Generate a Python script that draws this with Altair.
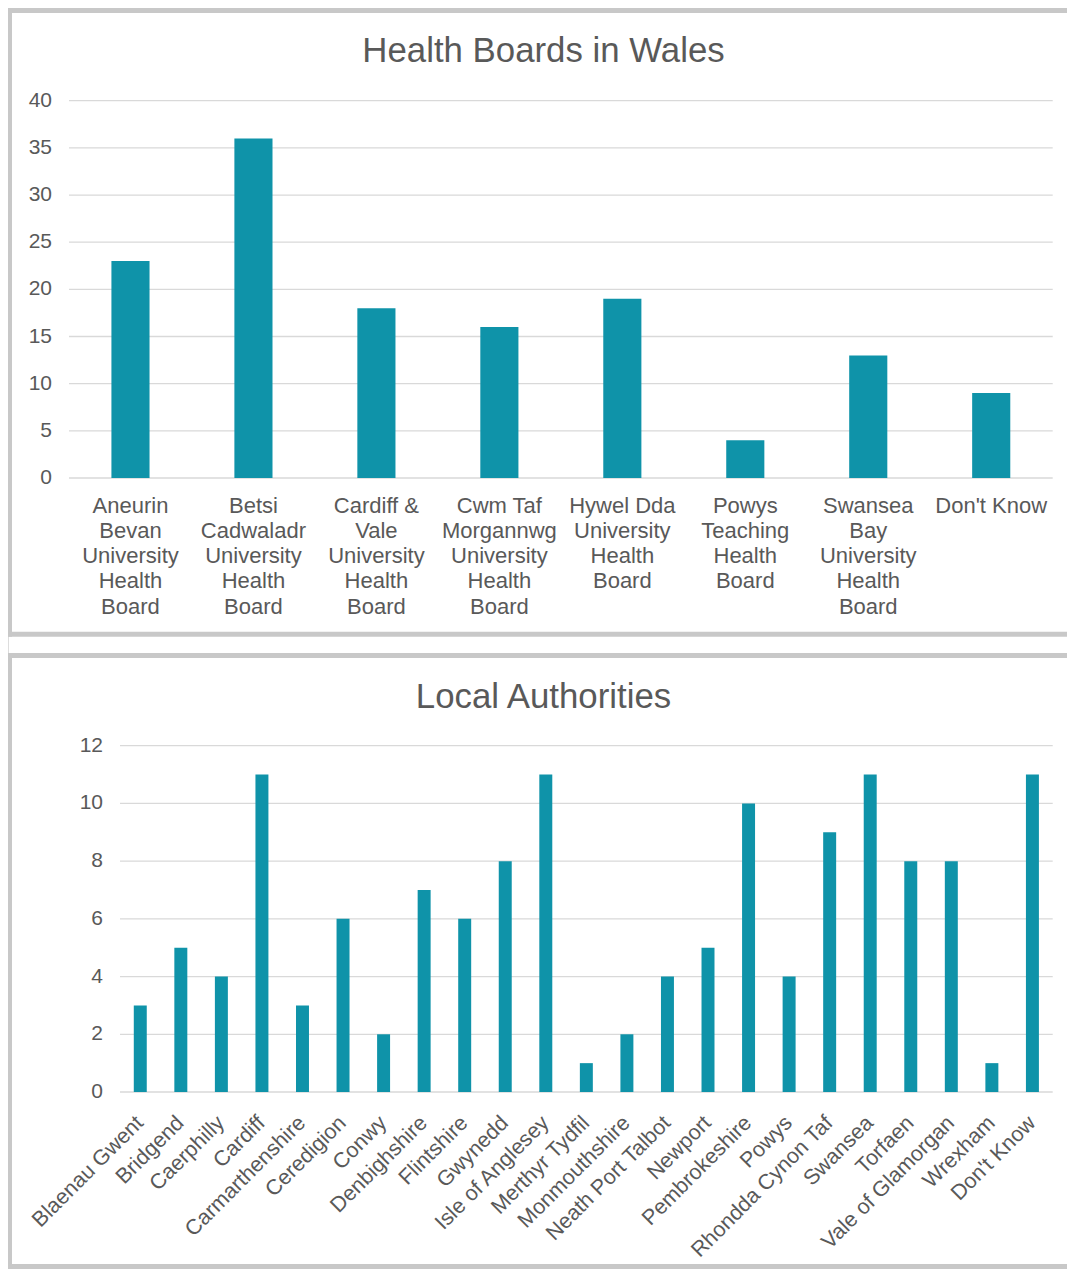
import altair as alt
import pandas as pd

# ---- data ----
board_labels = [
    "Aneurin\nBevan\nUniversity\nHealth\nBoard",
    "Betsi\nCadwaladr\nUniversity\nHealth\nBoard",
    "Cardiff &\nVale\nUniversity\nHealth\nBoard",
    "Cwm Taf\nMorgannwg\nUniversity\nHealth\nBoard",
    "Hywel Dda\nUniversity\nHealth\nBoard",
    "Powys\nTeaching\nHealth\nBoard",
    "Swansea\nBay\nUniversity\nHealth\nBoard",
    "Don't Know",
]
board_values = [23, 36, 18, 16, 19, 4, 13, 9]
board_ticks = [0, 5, 10, 15, 20, 25, 30, 35, 40]

la_labels = [
    "Blaenau Gwent", "Bridgend", "Caerphilly", "Cardiff", "Carmarthenshire",
    "Ceredigion", "Conwy", "Denbighshire", "Flintshire", "Gwynedd",
    "Isle of Anglesey", "Merthyr Tydfil", "Monmouthshire", "Neath Port Talbot",
    "Newport", "Pembrokeshire", "Powys", "Rhondda Cynon Taf", "Swansea",
    "Torfaen", "Vale of Glamorgan", "Wrexham", "Don't Know",
]
la_values = [3, 5, 4, 11, 3, 6, 2, 7, 6, 8, 11, 1, 2, 4, 5, 10, 4, 9, 11, 8, 8, 1, 11]
la_ticks = [0, 2, 4, 6, 8, 10, 12]

title1 = "Health Boards in Wales"
title2 = "Local Authorities"

FONT = "Liberation Sans"
TXT = "#595959"
GRID = "#d9d9d9"
BAR = "#0F93A9"
BORDER = "#c8c8c8"
W, H = 1059, 1261

band_pad = {"boards": (0.69, 0.345), "las": (0.68, 0.34)}


def panel(cats, vals, ticks, xrange, yrange, ymax, xlab_mark, xlab_y, ylab_x, name):
    dfb = pd.DataFrame({"cat": cats, "count": vals})
    dft = pd.DataFrame({"v": ticks})
    xs = alt.Scale(domain=cats, range=xrange, paddingInner=band_pad[name][0],
                   paddingOuter=band_pad[name][1])
    ys = alt.Scale(domain=[0, ymax], range=yrange, nice=False, zero=True)
    grid = alt.Chart(dft).mark_rule(color=GRID, strokeWidth=1.3).encode(
        y=alt.Y("v:Q", scale=ys, axis=None),
        x=alt.value(xrange[0]), x2=alt.value(xrange[1]),
    )
    ylab = alt.Chart(dft).mark_text(
        font=FONT, fontSize=21, color=TXT, align="right", baseline="middle"
    ).encode(y=alt.Y("v:Q", scale=ys, axis=None), x=alt.value(ylab_x), text="v:Q")
    bars = alt.Chart(dfb).mark_bar(color=BAR).encode(
        x=alt.X("cat:N", sort=cats, scale=xs, axis=None),
        y=alt.Y("count:Q", scale=ys, axis=None),
    )
    xlab = alt.Chart(dfb).mark_text(**xlab_mark).encode(
        x=alt.X("cat:N", sort=cats, scale=xs, axis=None),
        y=alt.value(xlab_y), text="cat:N",
    )
    return alt.layer(grid, bars, ylab, xlab)


p1 = panel(
    board_labels, board_values, board_ticks,
    [61, 1044.7], [470, 92.7], 40,
    dict(font=FONT, fontSize=22, color=TXT, align="center", baseline="top",
         lineBreak="\n", lineHeight=25.3),
    487.5, 44, "boards",
)
p2 = panel(
    la_labels, la_values, la_ticks,
    [112, 1044.7], [1084, 737.7], 12,
    dict(font=FONT, fontSize=21.5, color=TXT, align="right", baseline="middle",
         angle=315),
    1112, 95, "las",
)

one = pd.DataFrame({"k": [0]})


def hrule(x1, x2, y):
    return alt.Chart(one).mark_rule(color=BORDER, strokeWidth=5).encode(
        x=alt.value(x1), x2=alt.value(x2), y=alt.value(y))


def vrule(x, y1, y2):
    return alt.Chart(one).mark_rule(color=BORDER, strokeWidth=5).encode(
        x=alt.value(x), y=alt.value(y1), y2=alt.value(y2))


borders = [
    hrule(-1, W, 2.6), hrule(-1, W, 626.2), vrule(1.5, 0, 628.7),
    hrule(-1, W, 647.5), hrule(-1, W, 1258.5), vrule(1.5, 645, 1261),
]


def title(text, x, y):
    return alt.Chart(pd.DataFrame({"t": [text]})).mark_text(
        font=FONT, fontSize=34.8, color=TXT, align="center", baseline="alphabetic"
    ).encode(text="t:N", x=alt.value(x), y=alt.value(y))


chart = alt.layer(
    p1, p2, *borders, title(title1, 535.5, 54), title(title2, 535.5, 700)
).resolve_scale(x="independent", y="independent").properties(
    width=W, height=H, padding=0, autosize="none"
).configure_view(strokeWidth=0).configure(font=FONT, background="white")

chart.save("out.html", embed_options={"renderer": "svg", "actions": False})
